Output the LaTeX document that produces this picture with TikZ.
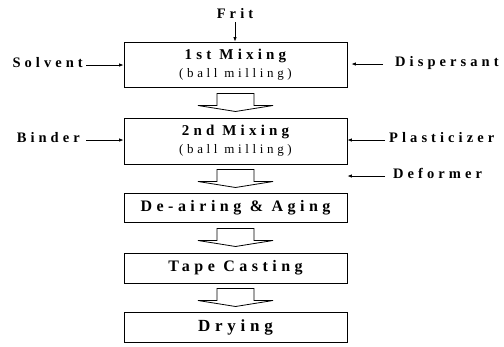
\documentclass[tikz,border=0pt]{standalone}
\usepackage{fontspec}
\setmainfont{Liberation Serif}
\newfontfamily\widefont[LetterSpace=28]{Liberation Serif}
\usetikzlibrary{calc,arrows.meta}

\tikzset{
  stage/.style={draw,line width=0.8pt,minimum width=223pt,inner sep=0pt,align=center,
    font=\widefont\bfseries\fontsize{#1}{#1}\selectfont},
  stage/.default=16,
  feedlabel/.style={inner sep=0pt,font=\widefont\bfseries\fontsize{14.5}{16}\selectfont},
  feed/.style={line width=0.8pt,-{Latex[length=4.5pt,width=3.5pt]}},
  hollowarrow/.pic={
    \draw[line width=0.8pt,fill=white] (-18.5,-9) -- (-18.5,3) -- (-37.5,3) -- (0,9)
      -- (37.5,3) -- (18.5,3) -- (18.5,-9) -- cycle;
  }
}

\begin{document}
\begin{tikzpicture}[x=1pt,y=-1pt]
  \useasboundingbox (0,0) rectangle (504,346);
  % process stages
  \node[stage=15,minimum height=45pt] (mixA) at (235.5,64.5)
    {1st Mixing\\[3pt]{\mdseries\fontsize{13}{14}\selectfont (ball milling)}};
  \node[stage=15,minimum height=46pt] (mixB) at (235.5,141)
    {2nd Mixing\\[3pt]{\mdseries\fontsize{13}{14}\selectfont (ball milling)}};
  \node[stage,minimum height=29pt] (deair) at (235.5,207.5) {De-airing \& Aging};
  \node[stage,minimum height=30pt] (tape) at (235.5,268) {Tape Casting};
  \node[stage=17,minimum height=30pt] (dry) at (235.5,327) {Drying};
  \foreach \a/\b in {mixA/mixB,mixB/deair,deair/tape,tape/dry}
    \pic at ($(\a.south)!0.5!(\b.north)$) {hollowarrow};

  % additives
  \node[feedlabel] (frit) at (235,14) {Frit};
  \node[feedlabel,anchor=mid east] (solvent) at (83,65) {Solvent};
  \node[feedlabel,anchor=mid east] (binder) at (80,140) {Binder};
  \node[feedlabel,anchor=mid west] (dispersant) at (395,64) {Dispersant};
  \node[feedlabel,anchor=mid west] (plasticizer) at (389,140) {Plasticizer};
  \node[feedlabel,anchor=mid west] (deformer) at (393,176) {Deformer};

  \draw[feed] ([yshift=-3pt]frit.south) -- (frit.south |- mixA.north);
  \draw[feed] ([xshift=3pt]solvent.mid east) -- (solvent.mid east -| mixA.west);
  \draw[feed] ([xshift=6pt]binder.mid east) -- (binder.mid east -| mixB.west);
  \draw[feed] ([xshift=-12pt]dispersant.mid west) -- ([xshift=4pt]dispersant.mid west -| mixA.east);
  \draw[feed] ([xshift=-4pt]plasticizer.mid west) -- (plasticizer.mid west -| mixB.east);
  \draw[feed] ([xshift=-8pt]deformer.mid west) -- (deformer.mid west -| mixB.east);
\end{tikzpicture}
\end{document}
